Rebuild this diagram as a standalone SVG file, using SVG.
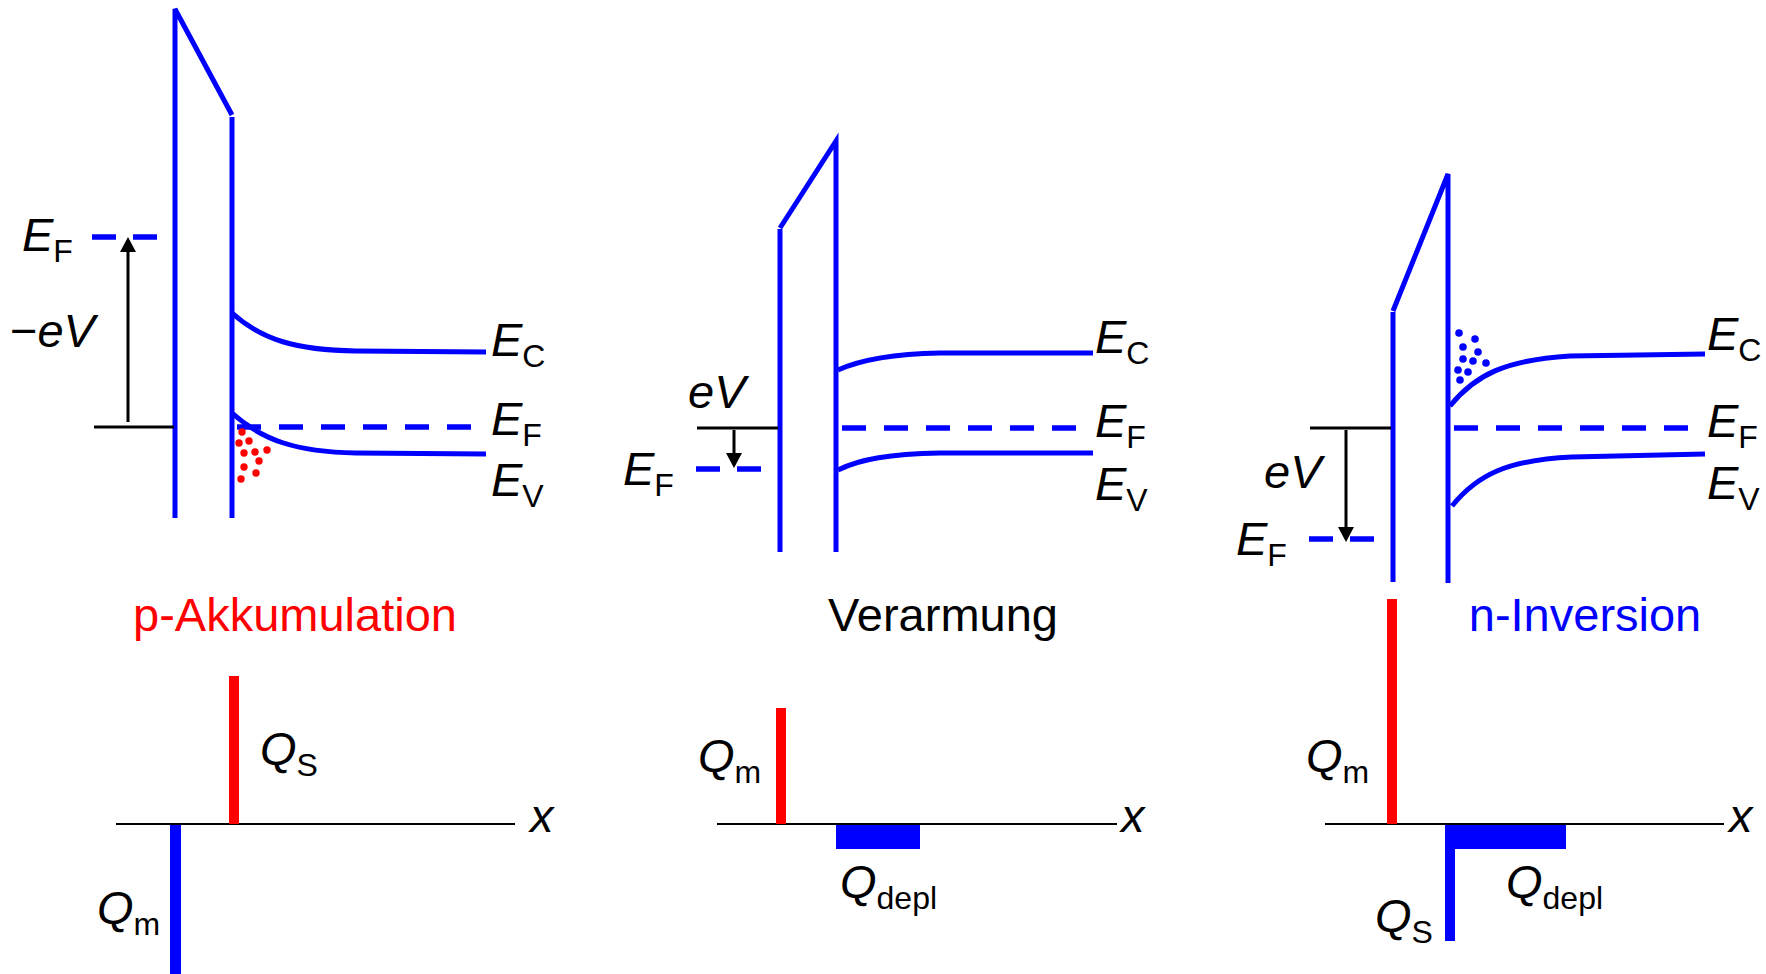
<svg xmlns="http://www.w3.org/2000/svg" width="1766" height="974" viewBox="0 0 1766 974">
<style>
.b{stroke:#0000ff;stroke-width:5;fill:none;stroke-linejoin:miter}
.d{stroke:#0000ff;stroke-width:5.5;stroke-dasharray:24 18;fill:none}
.dl{stroke:#0000ff;stroke-width:5.5;stroke-dasharray:24 17;fill:none}
.k{stroke:#000;stroke-width:3;fill:none}
.ax{stroke:#000;stroke-width:2;fill:none}
.rd{fill:#ff0000}
.bd{fill:#0000ff}
text{font-family:"Liberation Sans",Arial,sans-serif;font-size:47px;fill:#000}
.i{font-style:italic}
.s{font-size:32px;font-style:normal}
</style>
<defs>
<marker id="ah" markerUnits="userSpaceOnUse" viewBox="0 0 15 16" markerWidth="15" markerHeight="16" refX="0" refY="8" orient="auto">
<path d="M0,0 L15,8 L0,16 Z" fill="#000"/>
</marker>
</defs>

<g id="panel-accumulation">
<path class="b" d="M175,518 L175,9 L232,115"/>
<path class="b" d="M232,117 L232,518"/>
<path class="b" d="M232,313 C262,340 296,350 356,351 L486,352"/>
<path class="b" d="M232,413 C262,440 296,452 356,453 L486,454"/>
<line class="d" x1="237" y1="427" x2="471" y2="427"/>
<line class="dl" x1="92" y1="237" x2="158" y2="237"/>
<line class="k" x1="94" y1="427" x2="174" y2="427"/>
<line class="k" x1="128" y1="422" x2="128" y2="252" marker-end="url(#ah)"/>
<g id="holes">
<circle class="rd" cx="242" cy="432" r="3.7"/>
<circle class="rd" cx="239" cy="443" r="3.7"/>
<circle class="rd" cx="249" cy="441" r="3.7"/>
<circle class="rd" cx="244" cy="453" r="3.7"/>
<circle class="rd" cx="255" cy="452" r="3.7"/>
<circle class="rd" cx="267" cy="450" r="3.7"/>
<circle class="rd" cx="259" cy="461" r="3.7"/>
<circle class="rd" cx="244" cy="467" r="3.7"/>
<circle class="rd" cx="256" cy="473" r="3.7"/>
<circle class="rd" cx="241" cy="479" r="3.7"/>
</g>
<text x="22" y="251"><tspan class="i">E</tspan><tspan class="s" dy="11">F</tspan></text>
<text x="10" y="347">−<tspan class="i">eV</tspan></text>
<text x="491" y="356"><tspan class="i">E</tspan><tspan class="s" dy="11">C</tspan></text>
<text x="491" y="435"><tspan class="i">E</tspan><tspan class="s" dy="11">F</tspan></text>
<text x="491" y="496"><tspan class="i">E</tspan><tspan class="s" dy="11">V</tspan></text>
<text x="295" y="631" text-anchor="middle" style="fill:#ff0000">p-Akkumulation</text>
<line class="ax" x1="116" y1="824" x2="515" y2="824"/>
<rect x="229" y="676" width="10" height="148" fill="#ff0000"/>
<rect x="170" y="825" width="11" height="149" fill="#0000ff"/>
<text x="260" y="765"><tspan class="i">Q</tspan><tspan class="s" dy="11">S</tspan></text>
<text x="97" y="924"><tspan class="i">Q</tspan><tspan class="s" dy="11">m</tspan></text>
<text x="530" y="832" class="i">x</text>
</g>

<g id="panel-depletion">
<path class="b" d="M780,552 L780,229"/>
<path class="b" d="M780,228 L836,141 L836,552"/>
<path class="b" d="M838,370 C860,360 890,354 940,353 L1093,353"/>
<path class="b" d="M838,470 C860,459 890,454 940,453 L1093,453"/>
<line class="d" x1="842" y1="428" x2="1076" y2="428"/>
<line class="dl" x1="696" y1="469" x2="762" y2="469"/>
<line class="k" x1="697" y1="428" x2="778" y2="428"/>
<line class="k" x1="734" y1="430" x2="734" y2="453" marker-end="url(#ah)"/>
<text x="623" y="485"><tspan class="i">E</tspan><tspan class="s" dy="11">F</tspan></text>
<text x="688" y="408" class="i">eV</text>
<text x="1095" y="353"><tspan class="i">E</tspan><tspan class="s" dy="11">C</tspan></text>
<text x="1095" y="437"><tspan class="i">E</tspan><tspan class="s" dy="11">F</tspan></text>
<text x="1095" y="500"><tspan class="i">E</tspan><tspan class="s" dy="11">V</tspan></text>
<text x="943" y="631" text-anchor="middle">Verarmung</text>
<line class="ax" x1="717" y1="824" x2="1117" y2="824"/>
<rect x="776" y="708" width="10" height="116" fill="#ff0000"/>
<rect x="836" y="825" width="84" height="24" fill="#0000ff"/>
<text x="698" y="772"><tspan class="i">Q</tspan><tspan class="s" dy="11">m</tspan></text>
<text x="840" y="898"><tspan class="i">Q</tspan><tspan class="s" dy="11">depl</tspan></text>
<text x="1121" y="832" class="i">x</text>
</g>

<g id="panel-inversion">
<path class="b" d="M1393,582 L1393,312"/>
<path class="b" d="M1393,311 L1448,174 L1448,583"/>
<path class="b" d="M1450,406 C1475,375 1505,360 1570,356 L1705,354"/>
<path class="b" d="M1452,506 C1477,475 1507,460 1572,457 L1705,454"/>
<line class="d" x1="1454" y1="428" x2="1689" y2="428"/>
<line class="dl" x1="1309" y1="539" x2="1375" y2="539"/>
<line class="k" x1="1310" y1="428" x2="1391" y2="428"/>
<line class="k" x1="1346" y1="430" x2="1346" y2="527" marker-end="url(#ah)"/>
<g id="electrons">
<circle class="bd" cx="1459" cy="333" r="3.8"/>
<circle class="bd" cx="1475" cy="339" r="3.8"/>
<circle class="bd" cx="1463" cy="347" r="3.8"/>
<circle class="bd" cx="1478" cy="352" r="3.8"/>
<circle class="bd" cx="1463" cy="359" r="3.8"/>
<circle class="bd" cx="1473" cy="361" r="3.8"/>
<circle class="bd" cx="1486" cy="363" r="3.8"/>
<circle class="bd" cx="1458" cy="370" r="3.8"/>
<circle class="bd" cx="1468" cy="372" r="3.8"/>
<circle class="bd" cx="1460" cy="380" r="3.8"/>
</g>
<text x="1236" y="555"><tspan class="i">E</tspan><tspan class="s" dy="11">F</tspan></text>
<text x="1264" y="488" class="i">eV</text>
<text x="1707" y="350"><tspan class="i">E</tspan><tspan class="s" dy="11">C</tspan></text>
<text x="1707" y="437"><tspan class="i">E</tspan><tspan class="s" dy="11">F</tspan></text>
<text x="1707" y="499"><tspan class="i">E</tspan><tspan class="s" dy="11">V</tspan></text>
<text x="1585" y="631" text-anchor="middle" style="fill:#0000ff">n-Inversion</text>
<line class="ax" x1="1325" y1="824" x2="1724" y2="824"/>
<rect x="1387" y="599" width="10" height="225" fill="#ff0000"/>
<rect x="1445" y="825" width="121" height="24" fill="#0000ff"/>
<rect x="1445" y="825" width="10" height="116" fill="#0000ff"/>
<text x="1306" y="772"><tspan class="i">Q</tspan><tspan class="s" dy="11">m</tspan></text>
<text x="1375" y="932"><tspan class="i">Q</tspan><tspan class="s" dy="11">S</tspan></text>
<text x="1506" y="898"><tspan class="i">Q</tspan><tspan class="s" dy="11">depl</tspan></text>
<text x="1729" y="832" class="i">x</text>
</g>
</svg>
